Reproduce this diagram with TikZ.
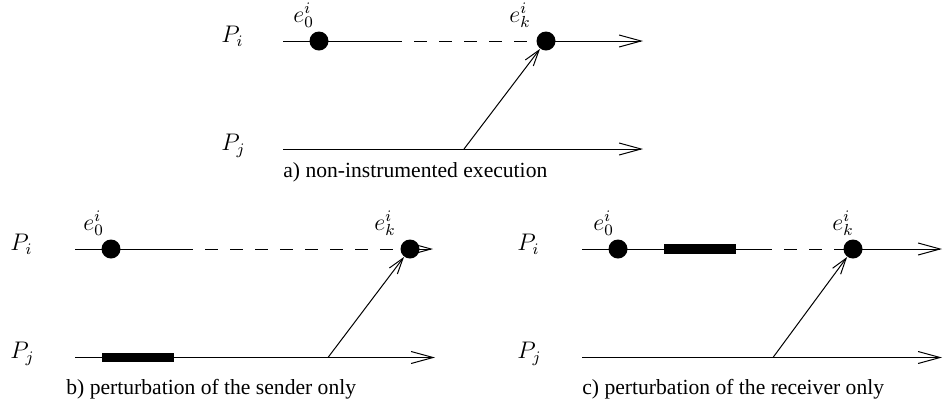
\documentclass[tikz,border=0pt]{standalone}
\usepackage{fontspec}
\setmainfont{Liberation Serif}
\usetikzlibrary{arrows.meta}
\pgfdeclarelayer{bg}
\pgfsetlayers{bg,main}
\tikzset{
	proc/.style   = {line width=0.5pt, -{Straight Barb[length=11pt, width=6pt, line width=0.5pt]}},
	seg/.style    = {line width=0.5pt},
	gapseg/.style = {line width=0.5pt, dash pattern=on 6.5pt off 6pt, dash phase=6.5pt},
	msg/.style    = {line width=0.5pt, -{Straight Barb[length=8pt, width=5pt, line width=0.5pt]}},
	evt/.style    = {circle, fill=black, inner sep=0pt, minimum size=9.5pt},
	evl/.style    = {anchor=base west, inner sep=0pt, font=\large},
	pl/.style     = {anchor=base west, inner sep=0pt, font=\large},
	bar/.style    = {fill=black, inner sep=0pt, minimum width=36pt, minimum height=4.75pt},
	captxt/.style = {anchor=base west, inner sep=0pt, font=\fontsize{10.8pt}{13pt}\selectfont},
}
\begin{document}
\begin{tikzpicture}[x=0.5pt, y=-0.5pt]
		\useasboundingbox (0,0) rectangle (943,403);
		
		%%═══════════════════════════════════════════════════════════════════
		%% a) NON-INSTRUMENTED EXECUTION   (Pi: y = 41, Pj: y = 149)
		%%═══════════════════════════════════════════════════════════════════
		\node[pl]  (pia) at (221, 42.5) {$P_i$};
		\node[pl]  (pja) at (221,150.5) {$P_j$};
		\node[evt] (e0a) at (319, 41) {};
		\node[evt] (eka) at (546, 41) {};
		\node[evl] (l0a) at (293, 22) {$e^i_0$};
		\node[evl] (lka) at (509, 22) {$e^i_k$};
		\coordinate (sia) at (283, 41);  % Pi start
		\coordinate (dia) at (402, 41);  % dashed part begins
		\coordinate (fia) at (643, 41);  % Pi end
		\coordinate (sja) at (283,149);
		\coordinate (fja) at (643,149);
		\coordinate (ma)  at (464,149);  % send event on Pj
		\begin{pgfonlayer}{bg}
			\draw[seg]    (sia) -- (dia);
			\draw[gapseg] (dia) -- (eka.center);
			\draw[proc]   (eka.center) -- (fia);
			\draw[proc]   (sja) -- (fja);
		\end{pgfonlayer}
		\draw[msg] (ma) -- (eka);
		\node[captxt] (capa) at (283,177) {a) non-instrumented execution};
		
		%%═══════════════════════════════════════════════════════════════════
		%% b) PERTURBATION OF THE SENDER   (Pi: y = 249, Pj: y = 357)
		%%═══════════════════════════════════════════════════════════════════
		\node[pl]  (pib) at (10,250.5) {$P_i$};
		\node[pl]  (pjb) at (10,358.5) {$P_j$};
		\node[evt] (e0b) at (111,249) {};
		\node[evt] (ekb) at (410,249) {};
		\node[evl] (l0b) at ( 83,230) {$e^i_0$};
		\node[evl] (lkb) at (374,230) {$e^i_k$};
		\coordinate (sib) at ( 75,249);
		\coordinate (dib) at (193,249);
		\coordinate (fib) at (433,249);
		\coordinate (sjb) at ( 75,357.5);
		\coordinate (fjb) at (435,357.5);
		\coordinate (mb)  at (328,357.5);
		\begin{pgfonlayer}{bg}
			\draw[seg]    (sib) -- (dib);
			\draw[gapseg] (dib) -- (ekb.center);
			\draw[proc]   (ekb.center) -- (fib);
			\draw[proc]   (sjb) -- (fjb);
		\end{pgfonlayer}
		\node[bar] (bb) at (138,357.5) {};
		\draw[msg] (mb) -- (ekb);
		\node[captxt] (capb) at (66,394) {b) perturbation of the sender only};
		
		%%═══════════════════════════════════════════════════════════════════
		%% c) PERTURBATION OF THE RECEIVER   (Pi: y = 249, Pj: y = 357)
		%%═══════════════════════════════════════════════════════════════════
		\node[pl]  (pic) at (517,250.5) {$P_i$};
		\node[pl]  (pjc) at (517,358.5) {$P_j$};
		\node[evt] (e0c) at (618,249) {};
		\node[evt] (ekc) at (853,249) {};
		\node[evl] (l0c) at (593,230) {$e^i_0$};
		\node[evl] (lkc) at (832,230) {$e^i_k$};
		\coordinate (sic) at (582,249);
		\coordinate (dic) at (772,249);
		\coordinate (fic) at (942,249);
		\coordinate (sjc) at (582,357.5);
		\coordinate (fjc) at (942,357.5);
		\coordinate (mc)  at (773,357.5);
		\begin{pgfonlayer}{bg}
			\draw[seg]    (sic) -- (dic);
			\draw[gapseg] (dic) -- (ekc.center);
			\draw[proc]   (ekc.center) -- (fic);
			\draw[proc]   (sjc) -- (fjc);
		\end{pgfonlayer}
		\node[bar] (bc) at (700,249) {};
		\draw[msg] (mc) -- (ekc);
		\node[captxt] (capc) at (582,394) {c) perturbation of the receiver only};
		
\end{tikzpicture}
\end{document}
